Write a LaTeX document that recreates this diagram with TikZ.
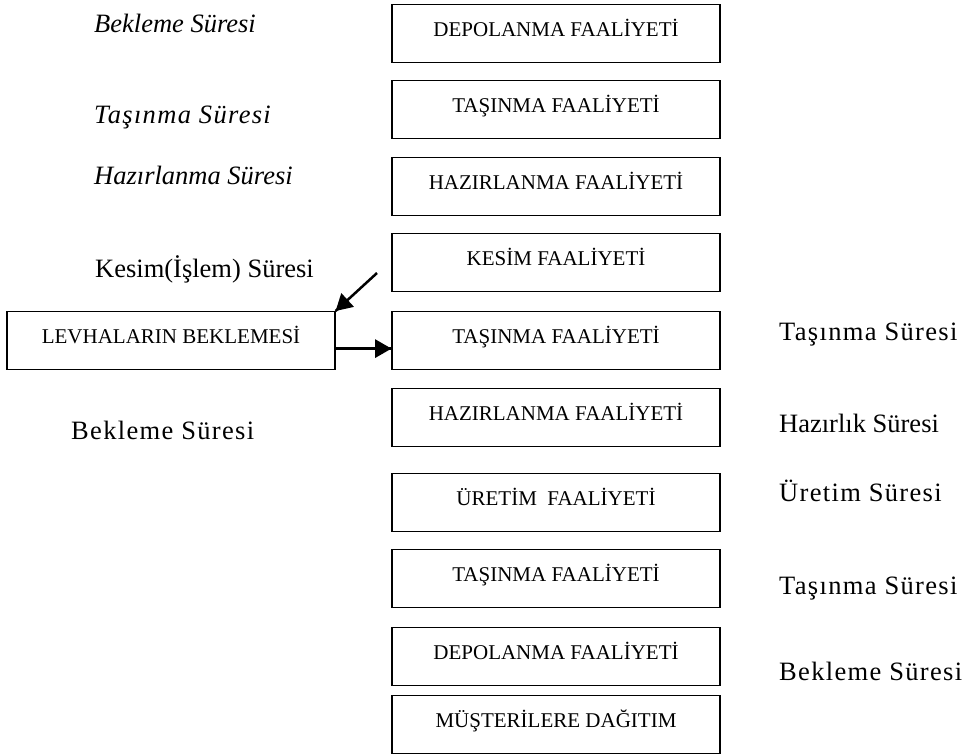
\documentclass[tikz,border=0pt]{standalone}
\usepackage{fontspec}
\setmainfont{Liberation Serif}
\newfontfamily\spacedfont[LetterSpace=5]{Liberation Serif}
\usepackage{tikz}
\usetikzlibrary{arrows}
\usetikzlibrary{decorations.markings}
\tikzset{arrowend/.style = {decoration={markings,
                                        mark=at position 1 with {\arrow[scale=1.3]{triangle 60}}},
                            postaction={decorate}}}
\tikzset{box/.style = {draw, line width = 1.2pt, anchor = north, minimum width = 328,
                       inner xsep = 0, inner ysep = 0, text height = 32, text depth = 26,
                       font = \fontsize{21}{24}\selectfont}}
\tikzset{lbl/.style = {anchor = base west, inner sep = 0, font = \fontsize{26.5}{30}\selectfont}}
\tikzset{link/.style = {line width = 2.5pt, arrowend}}

\begin{document}
\begin{tikzpicture}[x = 1pt, y = -1pt]
    \useasboundingbox (0, 0) rectangle (963, 753);
    % faaliyet boxes
    \node [box] (depo1) at (556, 4) {DEPOLANMA FAALİYETİ};
    \node [box] (tas1) at (556, 80) {TAŞINMA FAALİYETİ};
    \node [box] (haz1) at (556, 157) {HAZIRLANMA FAALİYETİ};
    \node [box] (kesim) at (556, 233) {KESİM FAALİYETİ};
    \node [box] (tas2) at (556, 311) {TAŞINMA FAALİYETİ};
    \node [box] (haz2) at (556, 388) {HAZIRLANMA FAALİYETİ};
    \node [box] (uretim) at (556, 473) {ÜRETİM\ \ FAALİYETİ};
    \node [box] (tas3) at (556, 549) {TAŞINMA FAALİYETİ};
    \node [box] (depo2) at (556, 627) {DEPOLANMA FAALİYETİ};
    \node [box] (dagitim) at (556, 695) {MÜŞTERİLERE DAĞITIM};
    \node [box] (lev) at (171, 311) {LEVHALARIN BEKLEMESİ};
    % left labels
    \node [lbl] (lbekle1) at (94, 32) {\itshape Bekleme Süresi};
    \node [lbl] (ltasin) at (94, 123) {\spacedfont\itshape Taşınma Süresi};
    \node [lbl] (lhazir) at (94, 184) {\itshape Hazırlanma Süresi};
    \node [lbl] (lkesim) at (95, 277) {Kesim(İşlem) Süresi};
    \node [lbl] (lbekle2) at (71, 439) {\spacedfont Bekleme Süresi};
    % right labels
    \node [lbl] (rtasin1) at (779, 340) {\spacedfont Taşınma Süresi};
    \node [lbl] (rhazir) at (779, 432) {Hazırlık Süresi};
    \node [lbl] (ruretim) at (779, 501) {\spacedfont Üretim Süresi};
    \node [lbl] (rtasin2) at (779, 594) {\spacedfont Taşınma Süresi};
    \node [lbl] (rbekle) at (779, 680) {\spacedfont Bekleme Süresi};
    % arrows
    \coordinate (kesimout) at (377, 273);
    \draw [link] (kesimout) -- (lev.north east);
    \draw [link] ([yshift = -8pt]lev.east) -- ([yshift = -8pt]tas2.west);
\end{tikzpicture}
\end{document}
